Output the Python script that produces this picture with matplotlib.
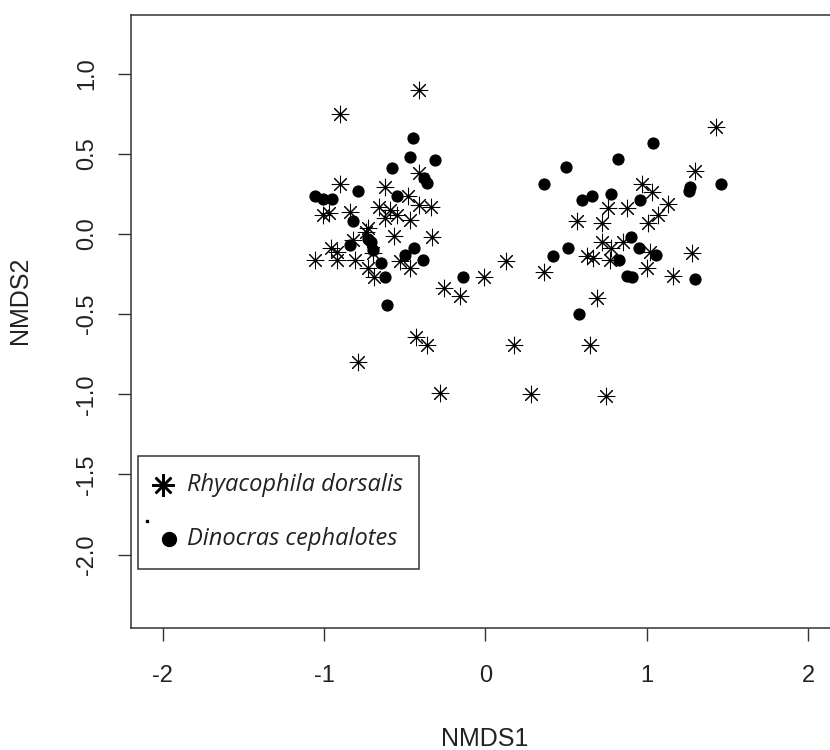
import numpy as np
import matplotlib.pyplot as plt

# NMDS scores, Rhyacophila dorsalis (asterisks)
rhy_x = [-0.41, -0.90, -0.90, -0.41, -0.62, -0.48, -0.41, -0.34, -0.66, -0.59,
         -0.62, -0.55, -0.47, -0.84, -1.01, -0.97, -0.73, -0.57, -0.33, -0.96,
         -0.92, -0.82, -1.06, -0.92, -0.81, -0.70, -0.53, -0.47, -0.73, -0.69,
         -0.26, -0.16, -0.43, -0.36, -0.79, -0.28, -0.01, 0.13, 0.28, 0.18,
         0.36, 1.43, 1.30, 0.97, 1.03, 1.13, 0.88, 0.76, 1.07, 0.57,
         0.72, 1.01, 0.72, 0.85, 0.78, 0.63, 0.67, 0.77, 1.02, 1.28,
         1.00, 1.16, 0.69, 0.65, 0.75, -0.74]
rhy_y = [0.90, 0.75, 0.31, 0.38, 0.29, 0.24, 0.18, 0.17, 0.17, 0.15,
         0.10, 0.12, 0.09, 0.14, 0.12, 0.13, 0.04, -0.01, -0.02, -0.09,
         -0.11, -0.04, -0.16, -0.16, -0.16, -0.12, -0.17, -0.21, -0.21, -0.27,
         -0.34, -0.39, -0.64, -0.69, -0.80, -0.99, -0.27, -0.17, -1.00, -0.69,
         -0.24, 0.67, 0.39, 0.31, 0.26, 0.19, 0.16, 0.16, 0.12, 0.08,
         0.07, 0.07, -0.05, -0.05, -0.09, -0.14, -0.15, -0.16, -0.11, -0.12,
         -0.21, -0.26, -0.40, -0.69, -1.01, 0.01]

# NMDS scores, Dinocras cephalotes (filled dots)
din_x = [-0.45, -0.47, -0.31, -0.58, -0.38, -0.36, -0.79, -0.55, -1.06, -1.01,
         -0.95, -0.82, -0.84, -0.71, -0.70, -0.65, -0.62, -0.50, -0.44, -0.39,
         -0.61, -0.14, -0.73, 0.42, 0.51, 0.58, 1.04, 0.82, 0.50, 0.36,
         0.60, 0.66, 0.78, 0.96, 1.27, 1.46, 0.90, 0.95, 0.83, 1.06,
         0.88, 0.91, 1.30, 1.26]
din_y = [0.60, 0.48, 0.46, 0.41, 0.35, 0.32, 0.27, 0.24, 0.24, 0.22,
         0.22, 0.08, -0.07, -0.05, -0.10, -0.18, -0.27, -0.13, -0.09, -0.16,
         -0.44, -0.27, -0.03, -0.14, -0.09, -0.50, 0.57, 0.47, 0.42, 0.31,
         0.21, 0.24, 0.25, 0.21, 0.29, 0.31, -0.02, -0.09, -0.16, -0.13,
         -0.26, -0.27, -0.28, 0.27]

labels = ["Rhyacophila dorsalis", "Dinocras cephalotes"]
xticks = [-2, -1, 0, 1, 2]
yticks = [-2.0, -1.5, -1.0, -0.5, 0.0, 0.5, 1.0]

plt.rcParams['font.family'] = ['Liberation Sans', 'DejaVu Sans']

fig = plt.figure(figsize=(8.3, 7.5), dpi=100)
ax = fig.add_axes([131/830, 122/750, 701/830, 613/750])

star = (8, 2, 0)
ax.plot(rhy_x, rhy_y, linestyle='none', marker=star, markersize=12.5,
        markeredgewidth=0.75, color='black')
ax.plot(din_x, din_y, linestyle='none', marker='o', markersize=7.8,
        color='black')

ax.set_xlim(-2.198, 2.149)
ax.set_ylim(-2.458, 1.366)
ax.set_xticks(xticks)
ax.set_xticklabels([str(v) for v in xticks])
ax.set_yticks(yticks)
ax.set_yticklabels([f"{v:.1f}" for v in yticks], rotation=90, va='center')
ax.tick_params(axis='both', length=9.5, width=1, color='#333333',
               labelsize=17, labelcolor='#222222')
ax.tick_params(axis='x', pad=17)
ax.tick_params(axis='y', pad=14)
for sp in ax.spines.values():
    sp.set_linewidth(1.1)
    sp.set_color('#333333')

fig.text(485/830, 1 - 739/750, "NMDS1", ha='center', va='center',
         fontsize=18, color='#222222')
fig.text(20/830, 1 - 300/750, "NMDS2", ha='center', va='center',
         rotation=90, fontsize=18, color='#222222')

# legend box drawn by hand, as in the original
tr = ax.transAxes
ax.add_patch(plt.Rectangle((0.0096, 0.0958), 0.4012, 0.1853, transform=tr,
                           fill=False, edgecolor='#333333', linewidth=1.1))
ax.plot([0.0456], [0.2333], transform=tr, marker=star, markersize=16,
        markeredgewidth=1.8, color='black')
ax.plot([0.0542], [0.1452], transform=tr, marker='o', markersize=10,
        color='black')
ax.plot([0.0228], [0.1746], transform=tr, marker='s', markersize=1.5,
        color='black')
leg_font = ['Liberation Sans Narrow', 'Open Sans', 'DejaVu Sans']
ax.text(0.0795, 0.2333, labels[0], transform=tr, va='center', ha='left',
        style='italic', fontsize=17, family=leg_font, color='#222222')
ax.text(0.0795, 0.1452, labels[1], transform=tr, va='center', ha='left',
        style='italic', fontsize=17, family=leg_font, color='#222222')

fig.savefig('out.png', dpi=100)
